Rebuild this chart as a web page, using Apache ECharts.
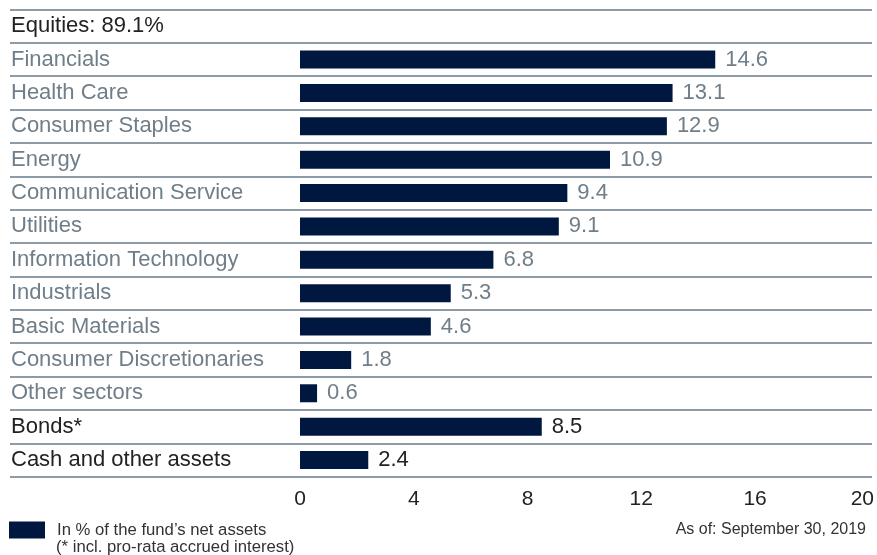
<!DOCTYPE html>
<html>
<head>
<meta charset="utf-8">
<script src="https://cdn.jsdelivr.net/npm/echarts@6/dist/echarts.min.js"></script>
<style>html,body{margin:0;padding:0;background:#fff;}#c{width:877px;height:555px;}</style>
</head>
<body>
<div id="c"></div>
<script>
// ---- data ----
const groupHeader = 'Equities: 89.1%';
const sectorNames = ['Financials','Health Care','Consumer Staples','Energy','Communication Service','Utilities','Information Technology','Industrials','Basic Materials','Consumer Discretionaries','Other sectors'];
const sectorValues = [14.6, 13.1, 12.9, 10.9, 9.4, 9.1, 6.8, 5.3, 4.6, 1.8, 0.6];
const otherNames = ['Bonds*','Cash and other assets'];
const otherValues = [8.5, 2.4];
const xTicks = [0, 4, 8, 12, 16, 20];
const seriesName = 'In % of the fund\u2019s net assets';
const footnote = '(* incl. pro-rata accrued interest)';
const asOf = 'As of: September 30, 2019';

// ---- build ----
const categories = [groupHeader].concat(sectorNames, otherNames);
const values = [null].concat(sectorValues, otherValues);
const GRAY = '#6f7e89', DARK = '#222222', NAVY = '#00183f', LINE = '#8d9ba6';
const FONT = 'Liberation Sans';
const isSector = name => sectorNames.indexOf(name) >= 0;

const barData = values.map((v, i) => ({
  value: v === null ? '-' : v,
  label: { color: isSector(categories[i]) ? GRAY : DARK }
}));

const chart = echarts.init(document.getElementById('c'));
const gridTop = 9.5, gridBottom = 555 - 476.7;
chart.setOption({
  animation: false,
  textStyle: { fontFamily: FONT },
  grid: [
    { left: 10, right: 5, top: gridTop, bottom: gridBottom },
    { left: 300, right: 6, top: gridTop, bottom: gridBottom }
  ],
  xAxis: [
    { gridIndex: 0, type: 'value', min: 0, max: 1, show: false },
    { gridIndex: 1, type: 'value', min: xTicks[0], max: xTicks[xTicks.length - 1], interval: 4,
      axisLine: { show: false }, axisTick: { show: false }, splitLine: { show: false },
      axisLabel: { fontSize: 21, color: DARK, margin: 12, fontFamily: FONT,
        formatter: v => v === xTicks[xTicks.length - 1] ? '{e|' + v + '}' : String(v),
        rich: { e: { fontSize: 21, color: DARK, fontFamily: FONT, padding: [0, 13, 0, 0] } } } }
  ],
  yAxis: [
    { gridIndex: 0, type: 'category', data: categories, inverse: true,
      axisLine: { show: false }, axisTick: { show: false },
      splitLine: { show: true, lineStyle: { color: LINE, width: 2 } },
      axisLabel: { inside: true, margin: 1, align: 'left', fontSize: 22, fontFamily: FONT,
        padding: [2, 0, 0, 0],
        color: (val) => isSector(val) ? GRAY : DARK } },
    { gridIndex: 1, type: 'category', data: categories, inverse: true, show: false }
  ],
  legend: {
    left: 9, top: 521.5, padding: 0, itemWidth: 36, itemHeight: 17,
    icon: 'rect', selectedMode: false,
    data: [seriesName],
    textStyle: { fontSize: 16.7, color: '#333', fontFamily: FONT, padding: [0, 0, 0, 7] }
  },
  title: [
    { text: footnote, left: 56, top: 538.5, padding: 0,
      textStyle: { fontSize: 16.7, fontWeight: 'normal', color: '#333', fontFamily: FONT } },
    { text: asOf, right: 11, top: 522, padding: 0,
      textStyle: { fontSize: 16, fontWeight: 'normal', color: '#333', fontFamily: FONT } }
  ],
  series: [{
    name: seriesName, type: 'bar', xAxisIndex: 1, yAxisIndex: 1,
    data: barData, barWidth: 18, itemStyle: { color: NAVY },
    label: { show: true, position: 'right', distance: 10, fontSize: 22, fontFamily: FONT,
      padding: [2, 0, 0, 0] }
  }]
});
</script>
</body>
</html>
